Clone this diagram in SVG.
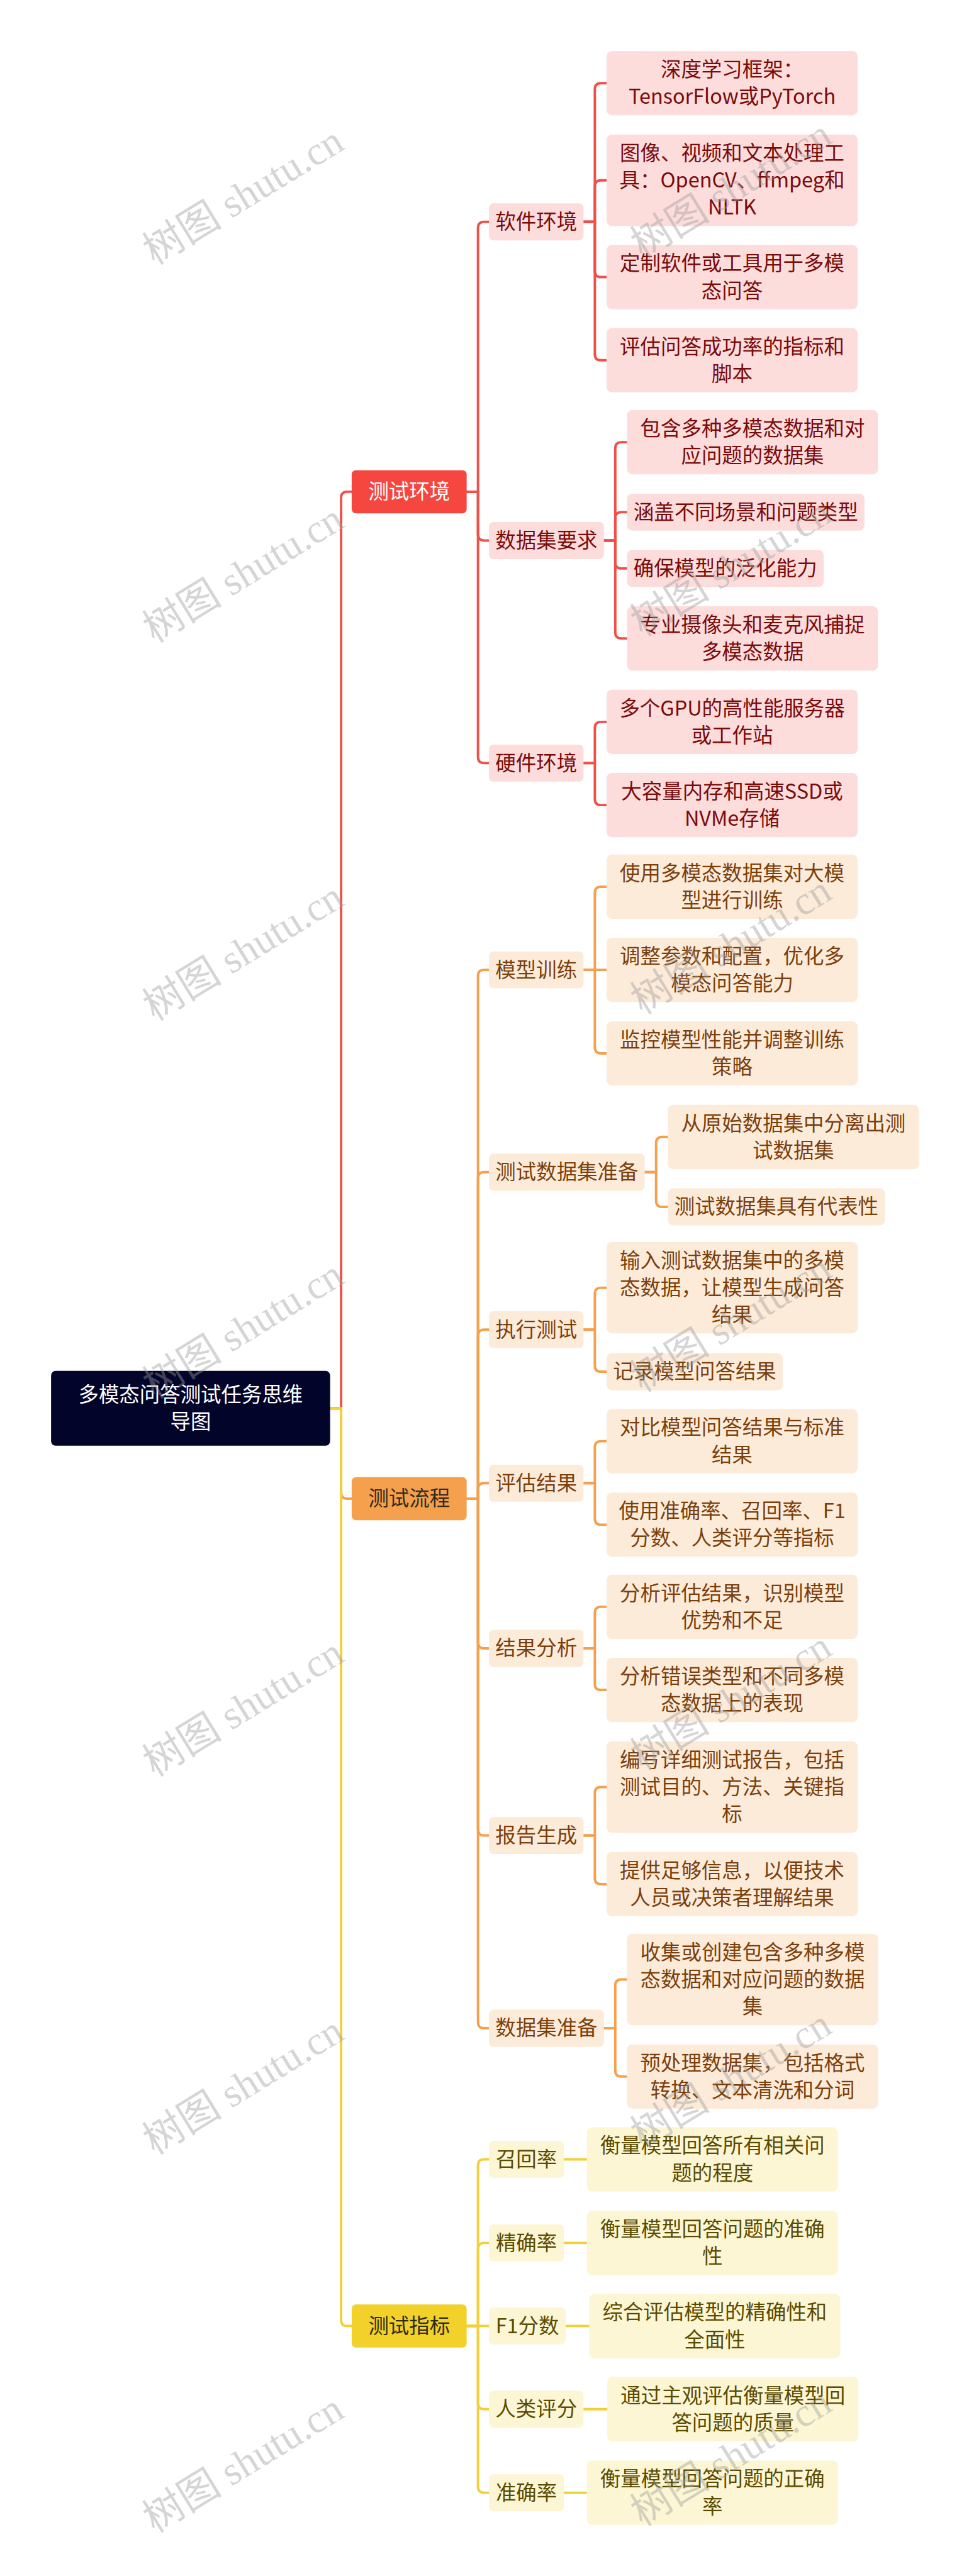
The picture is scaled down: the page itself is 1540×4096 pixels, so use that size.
<svg xmlns="http://www.w3.org/2000/svg" width="1540" height="4096" viewBox="0 0 1540 4096">
<style>
text{font-family:"Noto Sans CJK SC","Noto Sans",sans-serif;font-size:54px;text-anchor:middle}
.root rect{fill:#03042A}
.root text{fill:#FFFFFF}
.r1 rect{fill:#F5473F}.r1 text{fill:#FFFFFF}
.r2 rect{fill:#FDDCDC}.r2 text{fill:#7A0B0B}
.o1 rect{fill:#F4A04C}.o1 text{fill:#332A1C}
.o2 rect{fill:#FDEBDA}.o2 text{fill:#7B3F0C}
.y1 rect{fill:#F1D12A}.y1 text{fill:#2F2A14}
.y2 rect{fill:#FCF6D4}.y2 text{fill:#5B4B00}
.conn path{fill:none;stroke-width:6.5;stroke-linecap:round;stroke-linejoin:round}
.cr{stroke:#F0504A}.co{stroke:#F4A04C}.cy{stroke:#F2D03A}
.wm text{font-family:"Liberation Serif","Noto Sans CJK SC",serif;font-size:106px;fill:#9A9A9A;fill-opacity:0.42;text-anchor:middle}
</style>
<rect x="0" y="0" width="1540" height="4096" fill="#FFFFFF"/>
<g transform="scale(0.601)">
<g id="connectors" class="conn">
<path class="cr" d="M873 3726H902V1317Q902 1301 918 1301H930"/>
<path class="co" d="M873 3726H902V3949Q902 3965 918 3965H930"/>
<path class="cy" d="M873 3726H902V6138Q902 6154 918 6154H930"/>
<path class="cr" d="M1234 1301H1264V603Q1264 587 1280 587H1293"/>
<path class="cr" d="M1234 1301H1264V1414Q1264 1430 1280 1430H1293"/>
<path class="cr" d="M1234 1301H1264V2003Q1264 2019 1280 2019H1293"/>
<path class="cr" d="M1543 587H1573V236Q1573 220 1589 220H1604"/>
<path class="cr" d="M1543 587H1573V493Q1573 477 1589 477H1604"/>
<path class="cr" d="M1543 587H1573V717Q1573 733 1589 733H1604"/>
<path class="cr" d="M1543 587H1573V937Q1573 953 1589 953H1604"/>
<path class="cr" d="M1597 1430H1627V1186Q1627 1170 1643 1170H1658"/>
<path class="cr" d="M1597 1430H1627V1371Q1627 1355 1643 1355H1658"/>
<path class="cr" d="M1597 1430H1627V1488Q1627 1504 1643 1504H1658"/>
<path class="cr" d="M1597 1430H1627V1673Q1627 1689 1643 1689H1658"/>
<path class="cr" d="M1543 2019H1573V1926Q1573 1910 1589 1910H1604"/>
<path class="cr" d="M1543 2019H1573V2114Q1573 2130 1589 2130H1604"/>
<path class="co" d="M1234 3965H1264V2582Q1264 2566 1280 2566H1293"/>
<path class="co" d="M1234 3965H1264V3117Q1264 3101 1280 3101H1293"/>
<path class="co" d="M1234 3965H1264V3534Q1264 3518 1280 3518H1293"/>
<path class="co" d="M1234 3965H1264V3940Q1264 3924 1280 3924H1293"/>
<path class="co" d="M1234 3965H1264V4345Q1264 4361 1280 4361H1293"/>
<path class="co" d="M1234 3965H1264V4840Q1264 4856 1280 4856H1293"/>
<path class="co" d="M1234 3965H1264V5350Q1264 5366 1280 5366H1293"/>
<path class="co" d="M1543 2566H1573V2362Q1573 2346 1589 2346H1604"/>
<path class="co" d="M1543 2566H1604"/>
<path class="co" d="M1543 2566H1573V2771Q1573 2787 1589 2787H1604"/>
<path class="co" d="M1705 3101H1735V3024Q1735 3008 1751 3008H1766"/>
<path class="co" d="M1705 3101H1735V3177Q1735 3193 1751 3193H1766"/>
<path class="co" d="M1543 3518H1573V3423Q1573 3407 1589 3407H1604"/>
<path class="co" d="M1543 3518H1573V3613Q1573 3629 1589 3629H1604"/>
<path class="co" d="M1543 3924H1573V3829Q1573 3813 1589 3813H1604"/>
<path class="co" d="M1543 3924H1573V4018Q1573 4034 1589 4034H1604"/>
<path class="co" d="M1543 4361H1573V4267Q1573 4251 1589 4251H1604"/>
<path class="co" d="M1543 4361H1573V4455Q1573 4471 1589 4471H1604"/>
<path class="co" d="M1543 4856H1573V4744Q1573 4728 1589 4728H1604"/>
<path class="co" d="M1543 4856H1573V4969Q1573 4985 1589 4985H1604"/>
<path class="co" d="M1597 5366H1627V5253Q1627 5237 1643 5237H1658"/>
<path class="co" d="M1597 5366H1627V5478Q1627 5494 1643 5494H1658"/>
<path class="cy" d="M1234 6154H1264V5729Q1264 5713 1280 5713H1293"/>
<path class="cy" d="M1234 6154H1264V5950Q1264 5934 1280 5934H1293"/>
<path class="cy" d="M1234 6154H1293"/>
<path class="cy" d="M1234 6154H1264V6358Q1264 6374 1280 6374H1293"/>
<path class="cy" d="M1234 6154H1264V6579Q1264 6595 1280 6595H1293"/>
<path class="cy" d="M1491 5713H1552"/>
<path class="cy" d="M1491 5934H1552"/>
<path class="cy" d="M1496 6154H1558"/>
<path class="cy" d="M1543 6374H1606"/>
<path class="cy" d="M1491 6595H1552"/>
</g>
<g id="root" class="root"><rect x="135" y="3627" width="738" height="198" rx="12"/><text x="504" y="3709">多模态问答测试任务思维</text><text x="504" y="3781">导图</text></g>
<g id="n-env" class="r1"><rect x="930" y="1244" width="304" height="114" rx="11"/><text x="1082" y="1320">测试环境</text></g>
<g id="n-flow" class="o1"><rect x="930" y="3908" width="304" height="114" rx="11"/><text x="1082" y="3984">测试流程</text></g>
<g id="n-metric" class="y1"><rect x="930" y="6097" width="304" height="114" rx="11"/><text x="1082" y="6173">测试指标</text></g>
<g id="n-sw" class="r2"><rect x="1293" y="538" width="250" height="98" rx="12"/><text x="1418" y="606">软件环境</text></g>
<g id="n-ds" class="r2"><rect x="1293" y="1381" width="304" height="98" rx="12"/><text x="1445" y="1449">数据集要求</text></g>
<g id="n-hw" class="r2"><rect x="1293" y="1970" width="250" height="98" rx="12"/><text x="1418" y="2038">硬件环境</text></g>
<g id="n-sw1" class="r2"><rect x="1604" y="135" width="664" height="170" rx="14"/><text x="1936" y="203">深度学习框架：</text><text x="1936" y="275">TensorFlow或PyTorch</text></g>
<g id="n-sw2" class="r2"><rect x="1604" y="356" width="664" height="242" rx="14"/><text x="1936" y="424">图像、视频和文本处理工</text><text x="1936" y="496">具：OpenCV、ffmpeg和</text><text x="1936" y="568">NLTK</text></g>
<g id="n-sw3" class="r2"><rect x="1604" y="648" width="664" height="170" rx="14"/><text x="1936" y="716">定制软件或工具用于多模</text><text x="1936" y="788">态问答</text></g>
<g id="n-sw4" class="r2"><rect x="1604" y="868" width="664" height="170" rx="14"/><text x="1936" y="936">评估问答成功率的指标和</text><text x="1936" y="1008">脚本</text></g>
<g id="n-ds1" class="r2"><rect x="1658" y="1085" width="664" height="170" rx="14"/><text x="1990" y="1153">包含多种多模态数据和对</text><text x="1990" y="1225">应问题的数据集</text></g>
<g id="n-ds2" class="r2"><rect x="1658" y="1306" width="628" height="98" rx="14"/><text x="1972" y="1374">涵盖不同场景和问题类型</text></g>
<g id="n-ds3" class="r2"><rect x="1658" y="1455" width="520" height="98" rx="14"/><text x="1918" y="1523">确保模型的泛化能力</text></g>
<g id="n-ds4" class="r2"><rect x="1658" y="1604" width="664" height="170" rx="14"/><text x="1990" y="1672">专业摄像头和麦克风捕捉</text><text x="1990" y="1744">多模态数据</text></g>
<g id="n-hw1" class="r2"><rect x="1604" y="1825" width="664" height="170" rx="14"/><text x="1936" y="1893">多个GPU的高性能服务器</text><text x="1936" y="1965">或工作站</text></g>
<g id="n-hw2" class="r2"><rect x="1604" y="2045" width="664" height="170" rx="14"/><text x="1936" y="2113">大容量内存和高速SSD或</text><text x="1936" y="2185">NVMe存储</text></g>
<g id="n-train" class="o2"><rect x="1293" y="2517" width="250" height="98" rx="12"/><text x="1418" y="2585">模型训练</text></g>
<g id="n-prep" class="o2"><rect x="1293" y="3052" width="412" height="98" rx="12"/><text x="1499" y="3120">测试数据集准备</text></g>
<g id="n-exec" class="o2"><rect x="1293" y="3469" width="250" height="98" rx="12"/><text x="1418" y="3537">执行测试</text></g>
<g id="n-eval" class="o2"><rect x="1293" y="3875" width="250" height="98" rx="12"/><text x="1418" y="3943">评估结果</text></g>
<g id="n-ana" class="o2"><rect x="1293" y="4312" width="250" height="98" rx="12"/><text x="1418" y="4380">结果分析</text></g>
<g id="n-rep" class="o2"><rect x="1293" y="4807" width="250" height="98" rx="12"/><text x="1418" y="4875">报告生成</text></g>
<g id="n-dsp" class="o2"><rect x="1293" y="5317" width="304" height="98" rx="12"/><text x="1445" y="5385">数据集准备</text></g>
<g id="n-train1" class="o2"><rect x="1604" y="2261" width="664" height="170" rx="14"/><text x="1936" y="2329">使用多模态数据集对大模</text><text x="1936" y="2401">型进行训练</text></g>
<g id="n-train2" class="o2"><rect x="1604" y="2481" width="664" height="170" rx="14"/><text x="1936" y="2549">调整参数和配置，优化多</text><text x="1936" y="2621">模态问答能力</text></g>
<g id="n-train3" class="o2"><rect x="1604" y="2702" width="664" height="170" rx="14"/><text x="1936" y="2770">监控模型性能并调整训练</text><text x="1936" y="2842">策略</text></g>
<g id="n-prep1" class="o2"><rect x="1766" y="2923" width="664" height="170" rx="14"/><text x="2098" y="2991">从原始数据集中分离出测</text><text x="2098" y="3063">试数据集</text></g>
<g id="n-prep2" class="o2"><rect x="1766" y="3144" width="574" height="98" rx="14"/><text x="2053" y="3212">测试数据集具有代表性</text></g>
<g id="n-exec1" class="o2"><rect x="1604" y="3286" width="664" height="242" rx="14"/><text x="1936" y="3354">输入测试数据集中的多模</text><text x="1936" y="3426">态数据，让模型生成问答</text><text x="1936" y="3498">结果</text></g>
<g id="n-exec2" class="o2"><rect x="1604" y="3580" width="466" height="98" rx="14"/><text x="1837" y="3648">记录模型问答结果</text></g>
<g id="n-eval1" class="o2"><rect x="1604" y="3728" width="664" height="170" rx="14"/><text x="1936" y="3796">对比模型问答结果与标准</text><text x="1936" y="3868">结果</text></g>
<g id="n-eval2" class="o2"><rect x="1604" y="3949" width="664" height="170" rx="14"/><text x="1936" y="4017">使用准确率、召回率、F1</text><text x="1936" y="4089">分数、人类评分等指标</text></g>
<g id="n-ana1" class="o2"><rect x="1604" y="4166" width="664" height="170" rx="14"/><text x="1936" y="4234">分析评估结果，识别模型</text><text x="1936" y="4306">优势和不足</text></g>
<g id="n-ana2" class="o2"><rect x="1604" y="4386" width="664" height="170" rx="14"/><text x="1936" y="4454">分析错误类型和不同多模</text><text x="1936" y="4526">态数据上的表现</text></g>
<g id="n-rep1" class="o2"><rect x="1604" y="4607" width="664" height="242" rx="14"/><text x="1936" y="4675">编写详细测试报告，包括</text><text x="1936" y="4747">测试目的、方法、关键指</text><text x="1936" y="4819">标</text></g>
<g id="n-rep2" class="o2"><rect x="1604" y="4900" width="664" height="170" rx="14"/><text x="1936" y="4968">提供足够信息，以便技术</text><text x="1936" y="5040">人员或决策者理解结果</text></g>
<g id="n-dsp1" class="o2"><rect x="1658" y="5116" width="664" height="242" rx="14"/><text x="1990" y="5184">收集或创建包含多种多模</text><text x="1990" y="5256">态数据和对应问题的数据</text><text x="1990" y="5328">集</text></g>
<g id="n-dsp2" class="o2"><rect x="1658" y="5409" width="664" height="170" rx="14"/><text x="1990" y="5477">预处理数据集，包括格式</text><text x="1990" y="5549">转换、文本清洗和分词</text></g>
<g id="n-recall" class="y2"><rect x="1293" y="5664" width="198" height="98" rx="12"/><text x="1392" y="5732">召回率</text></g>
<g id="n-prec" class="y2"><rect x="1293" y="5885" width="198" height="98" rx="12"/><text x="1392" y="5953">精确率</text></g>
<g id="n-f1" class="y2"><rect x="1293" y="6105" width="203" height="98" rx="12"/><text x="1394.5" y="6173">F1分数</text></g>
<g id="n-human" class="y2"><rect x="1293" y="6325" width="250" height="98" rx="12"/><text x="1418" y="6393">人类评分</text></g>
<g id="n-acc" class="y2"><rect x="1293" y="6546" width="198" height="98" rx="12"/><text x="1392" y="6614">准确率</text></g>
<g id="n-recall1" class="y2"><rect x="1552" y="5628" width="664" height="170" rx="14"/><text x="1884" y="5696">衡量模型回答所有相关问</text><text x="1884" y="5768">题的程度</text></g>
<g id="n-prec1" class="y2"><rect x="1552" y="5849" width="664" height="170" rx="14"/><text x="1884" y="5917">衡量模型回答问题的准确</text><text x="1884" y="5989">性</text></g>
<g id="n-f11" class="y2"><rect x="1558" y="6069" width="664" height="170" rx="14"/><text x="1890" y="6137">综合评估模型的精确性和</text><text x="1890" y="6209">全面性</text></g>
<g id="n-human1" class="y2"><rect x="1606" y="6289" width="664" height="170" rx="14"/><text x="1938" y="6357">通过主观评估衡量模型回</text><text x="1938" y="6429">答问题的质量</text></g>
<g id="n-acc1" class="y2"><rect x="1552" y="6510" width="664" height="170" rx="14"/><text x="1884" y="6578">衡量模型回答问题的正确</text><text x="1884" y="6650">率</text></g>
<g id="watermarks" class="wm">
<text transform="translate(643 517) rotate(-31.5)" y="36">树图 shutu.cn</text>
<text transform="translate(643 1517) rotate(-31.5)" y="36">树图 shutu.cn</text>
<text transform="translate(643 2517) rotate(-31.5)" y="36">树图 shutu.cn</text>
<text transform="translate(643 3517) rotate(-31.5)" y="36">树图 shutu.cn</text>
<text transform="translate(643 4517) rotate(-31.5)" y="36">树图 shutu.cn</text>
<text transform="translate(643 5517) rotate(-31.5)" y="36">树图 shutu.cn</text>
<text transform="translate(643 6517) rotate(-31.5)" y="36">树图 shutu.cn</text>
<text transform="translate(1933 500) rotate(-31.5)" y="36">树图 shutu.cn</text>
<text transform="translate(1933 1500) rotate(-31.5)" y="36">树图 shutu.cn</text>
<text transform="translate(1933 2500) rotate(-31.5)" y="36">树图 shutu.cn</text>
<text transform="translate(1933 3500) rotate(-31.5)" y="36">树图 shutu.cn</text>
<text transform="translate(1933 4500) rotate(-31.5)" y="36">树图 shutu.cn</text>
<text transform="translate(1933 5500) rotate(-31.5)" y="36">树图 shutu.cn</text>
<text transform="translate(1933 6500) rotate(-31.5)" y="36">树图 shutu.cn</text>
</g>
</g>
</svg>
